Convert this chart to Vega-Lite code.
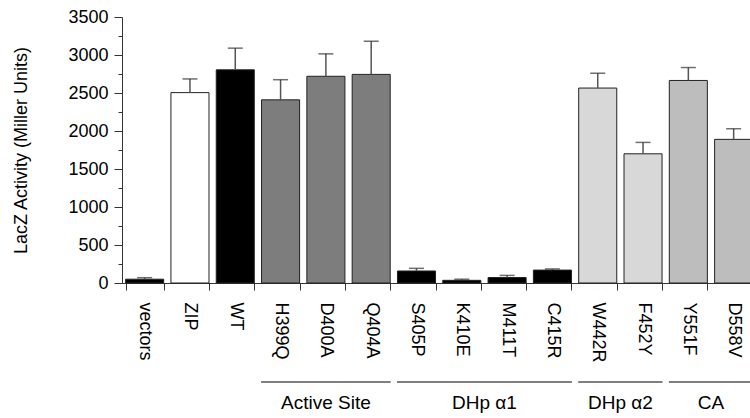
{
  "$schema": "https://vega.github.io/schema/vega-lite/v6.json",
  "width": 628,
  "height": 266,
  "autosize": "none",
  "padding": {"left": 122, "top": 17, "right": 0, "bottom": 135},
  "background": "white",
  "config": {"view": {"stroke": null}, "font": "Liberation Sans"},
  "datasets": {
    "bars": [
      {"cat": "vectors", "type": "vector", "value": 50, "upper": 70},
      {"cat": "ZIP", "type": "ZIP", "value": 2505, "upper": 2685},
      {"cat": "WT", "type": "WT", "value": 2805, "upper": 3090},
      {"cat": "H399Q", "type": "Active Site", "value": 2410, "upper": 2675},
      {"cat": "D400A", "type": "Active Site", "value": 2720, "upper": 3015},
      {"cat": "Q404A", "type": "Active Site", "value": 2745, "upper": 3180},
      {"cat": "S405P", "type": "DHp α1", "value": 158, "upper": 193},
      {"cat": "K410E", "type": "DHp α1", "value": 35, "upper": 50},
      {"cat": "M411T", "type": "DHp α1", "value": 72, "upper": 100},
      {"cat": "C415R", "type": "DHp α1", "value": 170, "upper": 185},
      {"cat": "W442R", "type": "DHp α2", "value": 2565, "upper": 2760},
      {"cat": "F452Y", "type": "DHp α2", "value": 1700, "upper": 1850},
      {"cat": "Y551F", "type": "CA", "value": 2665, "upper": 2835},
      {"cat": "D558V", "type": "CA", "value": 1890, "upper": 2030}
    ],
    "groups": [
      {"group": "Active Site", "start": "H399Q", "end": "Q404A"},
      {"group": "DHp α1", "start": "S405P", "end": "C415R"},
      {"group": "DHp α2", "start": "W442R", "end": "F452Y"},
      {"group": "CA", "start": "Y551F", "end": "D558V"}
    ],
    "labelsMid": [
      {"group": "Active Site", "at": "D400A"}
    ],
    "labelsEdge": [
      {"group": "DHp α1", "at": "M411T"},
      {"group": "DHp α2", "at": "F452Y"},
      {"group": "CA", "at": "D558V"}
    ]
  },
  "resolve": {"axis": {"y": "independent"}},
  "layer": [
    {
      "data": {"name": "bars"},
      "mark": {"type": "bar", "stroke": "#222", "strokeWidth": 1},
      "encoding": {
        "x": {
          "field": "cat", "type": "nominal",
          "scale": {
            "domain": ["vectors","ZIP","WT","H399Q","D400A","Q404A","S405P","K410E","M411T","C415R","W442R","F452Y","Y551F","D558V"],
            "range": [0, 634.3],
            "paddingInner": 0.16, "paddingOuter": 0.08
          },
          "axis": {
            "title": null, "labelAngle": 90, "labelAlign": "left", "labelBaseline": "middle",
            "labelFontSize": 18, "labelColor": "black", "labelPadding": 12,
            "tickSize": 7, "tickBand": "extent", "tickColor": "#333", "domainColor": "#333",
            "grid": false
          }
        },
        "y": {
          "field": "value", "type": "quantitative",
          "scale": {"domain": [0, 3500], "nice": false, "zero": true},
          "axis": {
            "values": [0,500,1000,1500,2000,2500,3000,3500], "format": "d",
            "title": "LacZ Activity (Miller Units)", "titleFontSize": 18, "titleFontWeight": "normal",
            "titleColor": "black", "titlePadding": 37,
            "labelFontSize": 18, "labelColor": "black", "labelPadding": 6,
            "tickSize": 8, "tickColor": "#333", "domainColor": "#333", "grid": false
          }
        },
        "fill": {
          "field": "type", "type": "nominal", "legend": null,
          "scale": {
            "domain": ["vector","ZIP","WT","Active Site","DHp α1","DHp α2","CA"],
            "range": ["#000000","#ffffff","#000000","#7d7d7d","#000000","#d8d8d8","#bdbdbd"]
          }
        }
      }
    },
    {
      "data": {"name": "bars"},
      "mark": {"type": "rule", "color": "#555", "strokeWidth": 1.5},
      "encoding": {
        "x": {"field": "cat", "type": "nominal", "axis": {"title": null}},
        "y": {"field": "value", "type": "quantitative", "axis": null},
        "y2": {"field": "upper"}
      }
    },
    {
      "data": {"name": "bars"},
      "mark": {"type": "tick", "color": "#333", "size": 15, "thickness": 1.5},
      "encoding": {
        "x": {"field": "cat", "type": "nominal", "axis": {"title": null}},
        "y": {"field": "upper", "type": "quantitative", "axis": null}
      }
    },
    {
      "data": {"values": [{"v": 250},{"v": 750},{"v": 1250},{"v": 1750},{"v": 2250},{"v": 2750},{"v": 3250}]},
      "mark": {"type": "point", "opacity": 0},
      "encoding": {
        "y": {
          "field": "v", "type": "quantitative",
          "axis": {
            "orient": "left", "values": [250,750,1250,1750,2250,2750,3250], "labels": false,
            "domain": false, "tickSize": 4, "tickColor": "#333", "title": null, "grid": false
          }
        }
      }
    },
    {
      "data": {"name": "groups"},
      "mark": {"type": "rule", "color": "#555", "strokeWidth": 1.5, "xOffset": -19.5, "x2Offset": 19.5},
      "encoding": {
        "x": {"field": "start", "type": "nominal", "axis": {"title": null}},
        "x2": {"field": "end"},
        "y": {"datum": -1303, "type": "quantitative", "axis": null}
      }
    },
    {
      "data": {"name": "labelsMid"},
      "mark": {"type": "text", "fontSize": 19, "color": "black", "baseline": "middle", "align": "center"},
      "encoding": {
        "x": {"field": "at", "type": "nominal", "axis": {"title": null}},
        "y": {"datum": -1580, "type": "quantitative", "axis": null},
        "text": {"field": "group"}
      }
    },
    {
      "data": {"name": "labelsEdge"},
      "mark": {"type": "text", "fontSize": 19, "color": "black", "baseline": "middle", "align": "center", "dx": -3.6},
      "encoding": {
        "x": {"field": "at", "type": "nominal", "bandPosition": 0, "axis": {"title": null}},
        "y": {"datum": -1580, "type": "quantitative", "axis": null},
        "text": {"field": "group"}
      }
    }
  ]
}
